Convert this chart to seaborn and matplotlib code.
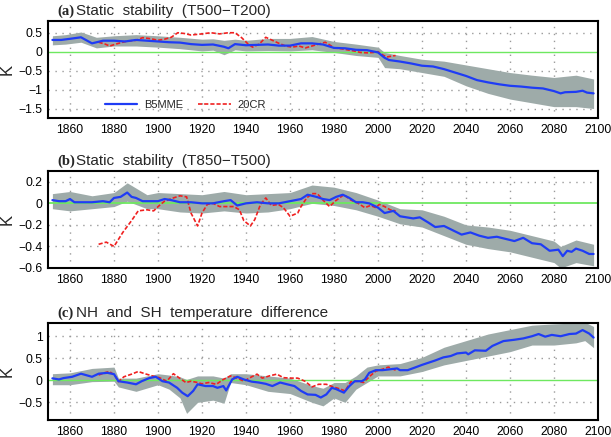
import numpy as np
import pandas as pd
import matplotlib
matplotlib.use("Agg")
import matplotlib.pyplot as plt
import seaborn as sns
from matplotlib.lines import Line2D

# ---------------- data ----------------
# Panel (a) Static stability (T500-T200)
a_years = [1852, 1856, 1860, 1865, 1870, 1875, 1880, 1885, 1890, 1895, 1900, 1905, 1910, 1915,
           1920, 1925, 1930, 1932, 1935, 1940, 1945, 1950, 1955, 1960, 1965, 1970, 1975, 1980,
           1985, 1990, 1995, 2000, 2003, 2005, 2010, 2015, 2020, 2025, 2030, 2035, 2040, 2045,
           2050, 2055, 2060, 2065, 2070, 2075, 2080, 2083, 2085, 2090, 2093, 2095, 2098]
a_mme = [0.31, 0.31, 0.34, 0.38, 0.22, 0.29, 0.29, 0.27, 0.31, 0.29, 0.27, 0.25, 0.24, 0.20,
         0.18, 0.19, 0.13, 0.09, 0.20, 0.17, 0.18, 0.19, 0.16, 0.16, 0.22, 0.22, 0.19, 0.10,
         0.09, 0.05, 0.04, -0.02, -0.16, -0.22, -0.26, -0.31, -0.37, -0.39, -0.46, -0.55, -0.64, -0.75,
         -0.81, -0.86, -0.90, -0.92, -0.95, -0.97, -1.04, -1.10, -1.07, -1.06, -1.03, -1.08, -1.10]
a_env_years = [1852, 1858, 1865, 1872, 1880, 1890, 1900, 1910, 1920, 1925, 1930, 1935, 1940, 1950,
               1960, 1970, 1980, 1990, 2000, 2003, 2010, 2020, 2030, 2040, 2050, 2060, 2070, 2080,
               2090, 2098]
a_upper = [0.42, 0.45, 0.52, 0.38, 0.42, 0.45, 0.42, 0.38, 0.33, 0.34, 0.30, 0.33, 0.30, 0.35,
           0.35, 0.40, 0.27, 0.20, 0.12, -0.02, -0.10, -0.20, -0.25, -0.35, -0.45, -0.55, -0.62, -0.68,
           -0.62, -0.72]
a_lower = [0.18, 0.20, 0.25, 0.10, 0.15, 0.15, 0.12, 0.08, 0.02, 0.04, -0.08, 0.05, 0.02, 0.03,
           0.02, 0.05, -0.02, -0.10, -0.15, -0.42, -0.45, -0.55, -0.65, -0.90, -1.10, -1.25, -1.35, -1.45,
           -1.45, -1.50]
a_cr_years = [1873, 1876, 1878, 1882, 1886, 1890, 1893, 1897, 1900, 1903, 1906, 1909, 1912, 1915,
              1920, 1924, 1928, 1932, 1935, 1938, 1941, 1943, 1946, 1949, 1952, 1955, 1958, 1961,
              1964, 1967, 1970, 1973, 1976, 1978, 1980, 1983, 1986, 1989, 1992, 1995, 1998, 2000,
              2002, 2004, 2006, 2008]
a_cr = [0.25, 0.20, 0.15, 0.22, 0.28, 0.30, 0.37, 0.34, 0.30, 0.33, 0.38, 0.50, 0.48, 0.44,
        0.47, 0.50, 0.47, 0.50, 0.50, 0.37, 0.20, 0.12, 0.20, 0.38, 0.30, 0.22, 0.15, 0.12,
        0.15, 0.10, 0.15, 0.20, 0.25, 0.18, 0.10, 0.08, 0.05, 0.02, -0.02, -0.03, -0.02, 0.00,
        -0.08, -0.14, -0.12, -0.10]

# Panel (b) Static stability (T850-T500)
b_years = [1852, 1855, 1858, 1860, 1862, 1865, 1870, 1875, 1878, 1880, 1883, 1886, 1888, 1890,
           1893, 1896, 1900, 1903, 1906, 1910, 1915, 1920, 1925, 1930, 1933, 1936, 1940, 1945,
           1950, 1955, 1960, 1965, 1968, 1972, 1975, 1978, 1981, 1984, 1987, 1990, 1993, 1996,
           2000, 2003, 2007, 2010, 2013, 2016, 2019, 2023, 2026, 2030, 2034, 2038, 2042, 2046,
           2050, 2054, 2058, 2062, 2066, 2070, 2074, 2078, 2082, 2084, 2086, 2088, 2090, 2093,
           2096, 2098]
b_mme = [0.03, 0.02, 0.02, 0.04, 0.01, 0.01, 0.01, 0.02, 0.01, 0.05, 0.06, 0.10, 0.06, 0.05,
         0.02, 0.02, 0.02, 0.04, 0.03, 0.01, 0.01, 0.00, 0.00, 0.02, 0.03, -0.02, 0.00, 0.01,
         0.00, 0.00, 0.02, 0.04, 0.08, 0.06, 0.04, 0.03, 0.06, 0.08, 0.05, 0.01, 0.01, 0.00,
         -0.04, -0.09, -0.07, -0.12, -0.13, -0.14, -0.13, -0.18, -0.22, -0.21, -0.25, -0.29, -0.27, -0.30,
         -0.32, -0.31, -0.33, -0.35, -0.32, -0.37, -0.38, -0.44, -0.43, -0.49, -0.44, -0.45, -0.42, -0.44,
         -0.47, -0.47]
b_env_years = [1852, 1860, 1870, 1880, 1886, 1895, 1900, 1910, 1920, 1930, 1940, 1950, 1960, 1970,
               1980, 1990, 2000, 2010, 2020, 2030, 2040, 2050, 2060, 2070, 2080, 2083, 2090, 2098]
b_upper = [0.09, 0.11, 0.07, 0.10, 0.19, 0.08, 0.10, 0.09, 0.08, 0.11, 0.08, 0.09, 0.10, 0.17,
           0.15, 0.10, 0.03, -0.05, -0.06, -0.12, -0.20, -0.22, -0.25, -0.30, -0.35, -0.40, -0.34, -0.38]
b_lower = [-0.05, -0.07, -0.05, -0.03, 0.02, -0.05, -0.05, -0.08, -0.09, -0.07, -0.09, -0.08, -0.05, 0.00,
           -0.02, -0.06, -0.12, -0.19, -0.22, -0.30, -0.38, -0.42, -0.45, -0.50, -0.55, -0.60, -0.55, -0.58]
b_cr_years = [1873, 1876.5, 1880, 1884, 1888, 1891, 1895, 1898, 1900.6, 1903, 1907, 1910, 1913, 1915,
              1918, 1920, 1922.4, 1925, 1928, 1931, 1934.5, 1937, 1939, 1942, 1944, 1946.6, 1949,
              1951.5, 1954.7, 1957, 1960, 1963.5, 1965, 1967.6, 1970, 1972.4, 1975, 1978, 1980.5,
              1984.5, 1987.7, 1991, 1994, 1996.6, 1999, 2000.6, 2003, 2005.5, 2008]
b_cr = [-0.38, -0.36, -0.40, -0.27, -0.16, -0.07, -0.06, -0.07, -0.02, 0.02, 0.05, 0.07, 0.06, -0.09,
        -0.21, -0.09, -0.01, 0.00, -0.03, -0.03, -0.03, -0.06, -0.16, -0.21, -0.15, -0.01, 0.05,
        -0.02, -0.01, -0.04, -0.12, -0.09, -0.03, 0.05, 0.09, 0.09, 0.03, -0.03, 0.02,
        0.08, 0.03, 0.00, -0.04, -0.02, -0.04, -0.01, -0.03, -0.06, -0.07]

# Panel (c) NH and SH temperature difference
c_years = [1852, 1855, 1857, 1861, 1865, 1870, 1873, 1877, 1880, 1882, 1886, 1890, 1892.6, 1896,
           1899, 1902, 1905, 1908.7, 1911, 1913.5, 1916, 1918, 1921.6, 1925, 1927, 1929.7, 1931,
           1933.7, 1936, 1939, 1942.6, 1945.8, 1949, 1952, 1955.5, 1958.7, 1962, 1965, 1968,
           1971.6, 1974, 1976.5, 1979, 1981, 1984.5, 1987, 1989.4, 1992.6, 1994, 1996, 1999,
           2002, 2005.5, 2008.7, 2010, 2013.5, 2016.8, 2020, 2023, 2026, 2029.7, 2033, 2036,
           2040, 2041, 2044, 2049, 2052, 2057, 2062, 2066, 2070, 2073, 2076, 2079, 2083, 2087,
           2090, 2093, 2096, 2098]
c_mme = [0.045, 0.02, 0.05, 0.08, 0.15, 0.08, 0.15, 0.17, 0.14, -0.02, -0.05, -0.09, -0.02, 0.05,
         0.08, -0.02, -0.05, -0.17, -0.28, -0.36, -0.24, -0.09, -0.13, -0.13, -0.17, -0.13, -0.23,
         0.02, 0.08, 0.02, -0.03, -0.05, -0.08, -0.13, -0.05, -0.09, -0.13, -0.24, -0.32,
         -0.33, -0.39, -0.32, -0.17, -0.20, -0.28, -0.13, -0.02, -0.02, 0.02, 0.17, 0.23,
         0.23, 0.25, 0.27, 0.23, 0.23, 0.29, 0.35, 0.40, 0.45, 0.52, 0.55, 0.61,
         0.63, 0.59, 0.68, 0.67, 0.78, 0.89, 0.92, 0.95, 1.00, 1.05, 0.99, 1.03, 1.00, 1.05,
         1.06, 1.14, 1.06, 0.97]
c_env_years = [1852, 1860, 1870, 1880, 1882, 1890, 1900, 1905, 1910, 1913, 1918, 1925, 1930, 1933,
               1940, 1950, 1960, 1970, 1975, 1980, 1985, 1990, 1995, 2000, 2010, 2020, 2030, 2040,
               2050, 2060, 2070, 2080, 2090, 2094, 2098]
c_upper = [0.15, 0.17, 0.27, 0.30, 0.05, 0.05, 0.15, 0.12, 0.08, 0.02, 0.10, 0.10, 0.05, 0.15,
           0.15, 0.10, 0.05, -0.12, -0.18, -0.05, -0.05, 0.10, 0.30, 0.35, 0.38, 0.52, 0.75, 0.90,
           1.05, 1.15, 1.25, 1.28, 1.30, 1.32, 1.22]
c_lower = [-0.10, -0.10, -0.03, -0.02, -0.15, -0.25, -0.10, -0.20, -0.40, -0.75, -0.50, -0.45, -0.52, -0.05,
           -0.10, -0.25, -0.30, -0.50, -0.58, -0.40, -0.50, -0.20, -0.05, 0.10, 0.10, 0.20, 0.35, 0.45,
           0.55, 0.65, 0.80, 0.80, 0.85, 0.90, 0.74]
c_cr_years = [1873, 1875.6, 1878, 1880.5, 1882, 1884.5, 1888, 1891, 1894, 1897.4, 1900.6, 1904, 1907,
              1909.5, 1912.7, 1915, 1918, 1920, 1923, 1926.5, 1929.7, 1933, 1936, 1939, 1942.6,
              1945, 1947.4, 1950.6, 1954, 1957, 1960, 1963.5, 1966.8, 1970, 1973, 1976.5, 1979.7,
              1983, 1985, 1987.7, 1991, 1993.4, 1996, 1999, 2002, 2004.7, 2008]
c_cr = [0.12, 0.17, 0.20, 0.10, -0.03, 0.08, 0.14, 0.20, 0.15, 0.10, 0.06, -0.02, 0.15,
        0.06, -0.05, -0.02, -0.05, -0.08, -0.05, -0.09, 0.02, 0.10, 0.05, -0.02, 0.08,
        0.14, 0.05, 0.10, 0.14, 0.06, 0.05, 0.05, -0.02, -0.15, -0.09, -0.09, -0.15,
        -0.20, -0.24, -0.03, -0.02, -0.05, 0.08, 0.21, 0.25, 0.30, 0.23]

titles = ["Static  stability  (T500\u2212T200)",
          "Static  stability  (T850\u2212T500)",
          "NH  and  SH  temperature  difference"]
letters = ["(a)", "(b)", "(c)"]
x_ticks = list(range(1860, 2101, 20))
y_ticks = [[0.5, 0, -0.5, -1, -1.5], [0.2, 0, -0.2, -0.4, -0.6], [1, 0.5, 0, -0.5]]
y_tick_labels = [["0.5", "0", "\u22120.5", "\u22121", "\u22121.5"],
                 ["0.2", "0", "\u22120.2", "\u22120.4", "\u22120.6"],
                 ["1", "0.5", "0", "\u22120.5"]]
y_limits = [(-1.75, 0.81), (-0.6, 0.3), (-0.9, 1.3)]
legend_labels = ["B5MME", "20CR"]

# ---------------- style ----------------
sns.set_theme(style="white")
plt.rcParams["font.family"] = ["Liberation Sans", "DejaVu Sans"]

BLUE = "#1f3cf5"
RED = "#f02020"
SHADE = "#9eaba9"
GREEN = "#6ee860"
DASH = (0, (2.5, 1.2))

fig = plt.figure(figsize=(6.11, 4.37), dpi=100)
boxes = [(48, 21, 598, 118), (48, 171, 598, 268), (48, 323, 598, 420)]
W, H = 611, 437

panels = [
    (a_years, a_mme, a_env_years, a_upper, a_lower, a_cr_years, a_cr),
    (b_years, b_mme, b_env_years, b_upper, b_lower, b_cr_years, b_cr),
    (c_years, c_mme, c_env_years, c_upper, c_lower, c_cr_years, c_cr),
]

for i, (yrs, mme, eyrs, up, lo, cyrs, cr) in enumerate(panels):
    x0, y0, x1, y1 = boxes[i]
    ax = fig.add_axes([x0 / W, 1 - y1 / H, (x1 - x0) / W, (y1 - y0) / H])
    ax.set_xlim(1850, 2100)
    ax.set_ylim(*y_limits[i])

    # dotted grid
    for xt in x_ticks[:-1]:
        ax.axvline(xt, color="#9a9a9a", lw=1.0, ls=(0, (1, 4)), zorder=0)
    for yt in y_ticks[i]:
        if yt != 0:
            ax.axhline(yt, color="#9a9a9a", lw=1.0, ls=(0, (1, 4)), zorder=0)

    ax.fill_between(eyrs, lo, up, color=SHADE, lw=0, zorder=1)
    ax.axhline(0, color=GREEN, lw=1.3 if i == 1 else 1.0, zorder=2)

    df_m = pd.DataFrame({"year": yrs, "value": mme})
    df_c = pd.DataFrame({"year": cyrs, "value": cr})
    sns.lineplot(data=df_m, x="year", y="value", ax=ax, color=BLUE, lw=1.6, zorder=4)
    sns.lineplot(data=df_c, x="year", y="value", ax=ax, color=RED, lw=1.2, zorder=3)
    ax.lines[-1].set_linestyle(DASH)

    ax.set_xlabel("")
    ax.set_ylabel("K", fontsize=12)
    ax.set_xticks(x_ticks)
    ax.set_xticklabels([str(t) for t in x_ticks], fontsize=8.8)
    ax.set_yticks(y_ticks[i])
    ax.set_yticklabels(y_tick_labels[i], fontsize=8.8)
    ax.tick_params(axis="both", direction="out", length=2.5, width=1, colors="black", pad=1.5)
    for sp in ax.spines.values():
        sp.set_color("black")
        sp.set_linewidth(1.5)
        sp.set_visible(True)

    ax.yaxis.set_label_coords(-0.06, 0.5)

    # panel title: bold serif letter + sans text
    ty = 1 - (y0 - 10) / H
    fig.text(57 / W, ty, letters[i], fontsize=10.5,
             family=["Liberation Serif", "DejaVu Serif"], weight="bold", va="center", ha="left")
    fig.text(76 / W, ty, titles[i], fontsize=11, va="center", ha="left")

    if i == 0:
        handles = [Line2D([], [], color=BLUE, lw=1.6),
                   Line2D([], [], color=RED, lw=1.2, ls=DASH)]
        ax.legend(handles, legend_labels, loc="lower left", bbox_to_anchor=(0.085, -0.02),
                  ncol=2, frameon=False, fontsize=8, handlelength=2.9,
                  columnspacing=1.4, handletextpad=0.6)

fig.savefig("out.png", dpi=100)
